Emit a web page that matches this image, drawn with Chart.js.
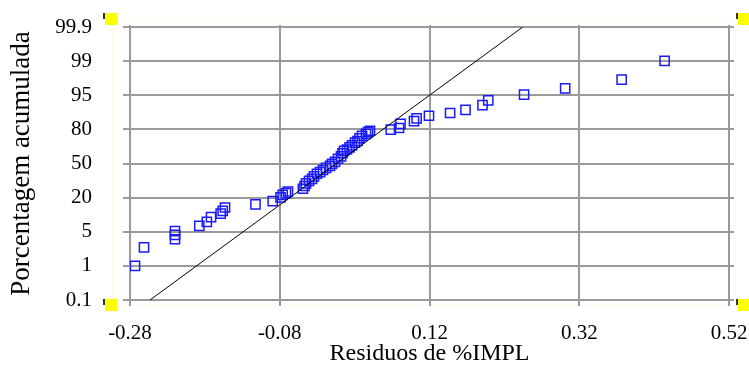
<!DOCTYPE html>
<html>
<head>
<meta charset="utf-8">
<script src="https://cdn.jsdelivr.net/npm/chart.js@4/dist/chart.umd.min.js"></script>
<style>
  html, body { margin: 0; padding: 0; background: #ffffff; }
  #wrap { width: 749px; height: 368px; }
</style>
</head>
<body>
<div id="wrap"><canvas id="c" width="749" height="368"></canvas></div>
<script>
// Normal probability plot of residuals.
// Vertical axis: evenly spaced probability positions (0 = 0.1 %, 8 = 99.9 %).
const probLabels = ['0.1', '1', '5', '20', '50', '80', '95', '99', '99.9'];
const xTickValues = [-0.28, -0.08, 0.12, 0.32, 0.52];

// Residual values (sorted) and their plotting positions on the probability axis
const residuals = [
  -0.2733, -0.2613, -0.2199, -0.2199, -0.2199, -0.1874, -0.1774, -0.1718, -0.1589,
  -0.1562, -0.1531, -0.1124, -0.0894, -0.0790, -0.0761, -0.0717, -0.0690,
  -0.0491, -0.0469, -0.0449, -0.0409, -0.0369, -0.0343, -0.0303, -0.0262, -0.0222,
  -0.0182, -0.0129, -0.0102, -0.0062, -0.0022, 0.0018, 0.0038, 0.0058, 0.0098,
  0.0132, 0.0165, 0.0205, 0.0238, 0.0265, 0.0299, 0.0352, 0.0379, 0.0405,
  0.0683, 0.0793, 0.0813, 0.0993, 0.1028, 0.1193, 0.1475, 0.1681, 0.1908,
  0.1985, 0.2463, 0.3012, 0.3766, 0.4340
];
const probPos = [
  1.00, 1.54, 2.02, 1.91, 1.78, 2.17, 2.29, 2.43, 2.53,
  2.61, 2.71, 2.80, 2.90, 3.01, 3.08, 3.13, 3.18,
  3.26, 3.34, 3.42, 3.49, 3.55, 3.62, 3.70, 3.75, 3.81,
  3.87, 3.93, 3.99, 4.05, 4.14, 4.21, 4.30, 4.37, 4.41,
  4.47, 4.53, 4.61, 4.66, 4.74, 4.81, 4.87, 4.92, 4.96,
  4.99, 5.04, 5.16, 5.24, 5.32, 5.40, 5.48, 5.57, 5.71,
  5.85, 6.02, 6.20, 6.46, 7.01
];

// Fitted normal reference line (end points)
const refLineX = [-0.2533, 0.2445];
const refLineY = [0, 8];

const pointData = residuals.map((v, i) => ({ x: v, y: probPos[i] }));
const lineData = refLineX.map((v, i) => ({ x: v, y: refLineY[i] }));

const FONT = "'Liberation Serif', 'Times New Roman', serif";

// Keep tick labels from pushing the plot area inward
function noOverflow(s) {
  s.paddingTop = 0; s.paddingBottom = 0; s.paddingLeft = 0; s.paddingRight = 0;
}

// Grid lines that run a little past the plot area, plus the frame and its handles
const gridPlugin = {
  id: 'gridFrame',
  beforeDatasetsDraw(chart) {
    const { ctx, chartArea: a, scales } = chart;
    ctx.save();
    // faint frame around the plot
    ctx.strokeStyle = '#fbfbe6';
    ctx.lineWidth = 1;
    ctx.strokeRect(112.5, 20.5, 623, 285);
    // grid
    ctx.strokeStyle = '#9a9a9a';
    ctx.lineWidth = 2;
    scales.y.ticks.forEach(t => {
      const y = Math.round(scales.y.getPixelForValue(t.value));
      ctx.beginPath();
      ctx.moveTo(a.left - 7, y);
      ctx.lineTo(a.right + 5, y);
      ctx.stroke();
    });
    scales.x.ticks.forEach(t => {
      const x = Math.round(scales.x.getPixelForValue(t.value));
      ctx.beginPath();
      ctx.moveTo(x, a.top - 2);
      ctx.lineTo(x, a.bottom + 6);
      ctx.stroke();
    });
    ctx.restore();
  },
  afterDraw(chart) {
    const { ctx } = chart;
    ctx.save();
    const handles = [[111, 19], [744, 19], [111, 305], [744, 305]];
    handles.forEach(([cx, cy]) => {
      ctx.fillStyle = '#ffff00';
      ctx.fillRect(cx - 6, cy - 6, 12, 12);
      ctx.fillStyle = '#333333';
      ctx.fillRect(cx - 8, cy - 6, 2, 6);
    });
    ctx.restore();
  }
};

new Chart(document.getElementById('c'), {
  type: 'scatter',
  data: {
    datasets: [
      {
        data: lineData,
        showLine: true,
        borderColor: '#000000',
        borderWidth: 1,
        pointRadius: 0,
        fill: false,
        order: 0
      },
      {
        data: pointData,
        showLine: false,
        pointStyle: 'rect',
        pointRadius: 6.5,
        pointBorderWidth: 1.5,
        pointBorderColor: '#1a1aff',
        pointBackgroundColor: 'rgba(0,0,0,0)',
        order: 1
      }
    ]
  },
  options: {
    responsive: false,
    animation: false,
    devicePixelRatio: 1,
    layout: { padding: { top: 27, right: 20, left: 0, bottom: 0 } },
    plugins: {
      legend: { display: false },
      tooltip: { enabled: false }
    },
    scales: {
      x: {
        type: 'linear',
        min: -0.28,
        max: 0.52,
        afterBuildTicks: s => { s.ticks = xTickValues.map(v => ({ value: v })); },
        afterFit: s => { s.height = 68; noOverflow(s); },
        grid: { display: false },
        border: { display: false },
        ticks: {
          padding: 13,
          color: '#000000',
          font: { family: FONT, size: 21 },
          maxRotation: 0,
          callback: v => Number(v).toFixed(2)
        },
        title: {
          display: true,
          text: 'Residuos de %IMPL',
          color: '#000000',
          font: { family: FONT, size: 24 },
          padding: { top: 0, bottom: 0 }
        }
      },
      y: {
        type: 'linear',
        min: 0,
        max: 8,
        afterBuildTicks: s => { s.ticks = probLabels.map((l, i) => ({ value: i })); },
        afterFit: s => { s.width = 130; noOverflow(s); },
        grid: { display: false },
        border: { display: false },
        ticks: {
          padding: 30,
          color: '#000000',
          font: { family: FONT, size: 21 },
          callback: v => probLabels[Math.round(v)]
        },
        title: {
          display: true,
          text: 'Porcentagem acumulada',
          color: '#000000',
          font: { family: FONT, size: 27 },
          padding: { top: 6, bottom: 0 }
        }
      }
    }
  },
  plugins: [gridPlugin]
});
</script>
</body>
</html>
